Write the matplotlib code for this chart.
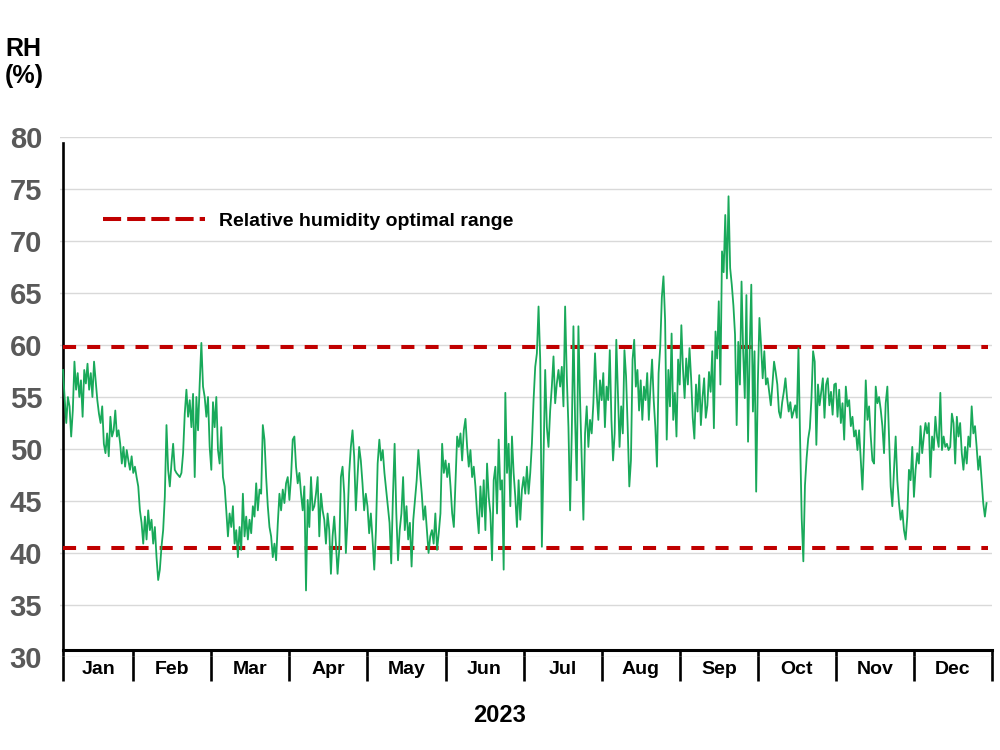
import numpy as np
import matplotlib
matplotlib.use("Agg")
import matplotlib.pyplot as plt
from matplotlib.lines import Line2D

# ---------------- data ----------------
months = ["Jan", "Feb", "Mar", "Apr", "May", "Jun",
          "Jul", "Aug", "Sep", "Oct", "Nov", "Dec"]

jan = [57.6, 54.9, 52.5, 55.0, 54.1, 51.2, 53.7, 58.4, 55.7, 57.3, 55.0, 56.6, 53.1, 57.6,
       56.3, 58.2, 55.7, 57.3, 55.0, 58.4, 56.6, 54.7, 53.4, 52.5, 54.1, 50.5, 49.6, 51.5,
       49.3, 53.1, 51.2, 51.8, 53.7, 51.2, 51.8, 50.5, 48.6, 50.2, 48.3, 49.9, 48.9, 48.0, 49.3]
feb = [47.7, 48.3, 47.3, 46.4, 44.1, 42.9, 40.9, 43.5, 41.3, 44.1, 42.2, 43.2, 40.9, 42.5,
       39.6, 37.4, 38.4, 40.6, 42.2, 45.4, 52.3, 48.0, 46.4, 48.6, 50.5, 48.0, 47.7, 47.5,
       47.3, 47.7, 49.6, 53.4, 55.7, 53.1, 54.7, 52.1, 55.3, 47.3, 55.0, 51.8, 56.3, 60.2,
       56.0, 55.0, 53.1, 55.0, 50.2]
mar = [48.0, 54.5, 52.1, 55.0, 49.9, 48.6, 52.1, 47.3, 46.4, 44.1, 41.6, 43.8, 42.5, 44.5,
       40.9, 42.2, 39.6, 42.5, 40.3, 45.7, 41.6, 43.5, 41.3, 43.2, 41.9, 44.5, 43.5, 46.7,
       44.1, 46.1, 45.7, 52.3, 50.9, 47.3, 44.5, 42.5, 41.6, 39.6, 40.9, 39.3, 42.8, 45.7,
       44.1, 46.1, 44.8, 46.7, 47.3]
apr = [45.1, 47.3, 50.9, 51.2, 48.3, 46.7, 47.7, 45.7, 44.1, 46.4, 36.4, 45.1, 42.5, 47.3,
       44.1, 44.5, 45.7, 47.3, 41.6, 45.7, 44.1, 43.2, 40.9, 43.8, 42.2, 38.0, 41.6, 43.5,
       40.9, 38.0, 40.3, 47.3, 48.3, 45.7, 40.0, 43.2, 47.7, 50.2, 51.8, 49.3, 44.1, 47.3,
       50.2, 48.9, 46.7, 44.1, 45.7]
may = [44.5, 41.9, 43.8, 41.3, 38.4, 42.2, 48.6, 50.9, 48.9, 49.9, 47.7, 46.1, 44.5, 42.9,
       39.0, 45.4, 50.5, 43.8, 39.3, 42.2, 43.8, 47.3, 42.2, 44.5, 41.3, 42.9, 38.7, 43.2,
       45.1, 47.0, 49.9, 47.7, 45.7, 43.2, 44.5, 42.2, 40.0, 41.6, 42.2, 40.9, 43.8, 40.3,
       41.9, 43.8, 50.5, 47.7]
jun = [48.9, 47.3, 48.6, 46.4, 43.8, 42.5, 47.0, 51.2, 50.2, 51.5, 48.9, 51.8, 52.9, 50.2,
       48.3, 49.9, 47.3, 48.3, 46.4, 43.8, 41.9, 46.4, 43.5, 47.0, 42.2, 48.6, 45.4, 43.8,
       39.3, 47.0, 48.3, 43.8, 50.9, 46.1, 47.0, 38.4, 55.4, 47.7, 50.5, 44.5, 51.2, 47.7,
       45.4, 42.5, 47.0, 43.2, 46.1]
jul = [47.3, 45.7, 48.3, 45.7, 47.7, 50.5, 54.7, 57.9, 59.2, 63.7, 58.6, 40.6, 48.9, 57.6,
       52.1, 50.2, 53.7, 56.0, 58.9, 54.4, 56.3, 57.6, 56.0, 57.9, 54.1, 63.7, 57.0, 52.1,
       44.1, 51.5, 61.8, 52.8, 47.0, 61.8, 54.7, 48.9, 43.2, 51.5, 54.1, 50.2, 52.8, 51.5,
       54.4, 59.2, 55.4, 52.8, 56.6]
aug = [54.7, 57.3, 52.1, 56.0, 54.7, 59.5, 52.8, 48.9, 51.5, 60.5, 55.4, 50.2, 54.1, 51.5,
       59.5, 57.0, 52.1, 46.4, 48.9, 58.6, 60.5, 56.0, 57.6, 53.7, 56.6, 52.8, 56.0, 54.7,
       57.3, 52.8, 56.0, 58.6, 54.7, 52.1, 48.3, 57.3, 59.8, 64.6, 66.6, 62.4, 50.9, 57.6,
       54.1, 61.1, 52.8, 55.4, 51.2, 58.6]
sep = [56.2, 61.9, 57.7, 54.9, 58.7, 56.2, 59.7, 56.8, 53.0, 51.0, 56.2, 53.6, 57.1, 52.3,
       54.9, 56.8, 53.0, 54.2, 57.4, 55.5, 59.4, 52.0, 61.3, 58.7, 64.2, 56.2, 69.0, 67.0,
       72.5, 66.4, 74.3, 67.4, 65.8, 63.8, 61.0, 52.3, 60.3, 56.2, 66.1, 59.4, 54.9, 64.8,
       50.7, 59.4, 65.8, 53.6, 59.4, 45.9]
oct_ = [56.2, 62.6, 60.0, 56.8, 59.4, 56.2, 56.8, 55.5, 54.2, 56.2, 58.4, 57.4, 56.2, 53.6,
        53.0, 54.5, 55.5, 56.8, 54.9, 53.6, 54.5, 53.0, 53.6, 54.2, 53.0, 59.7, 51.0, 43.3,
        39.2, 46.5, 49.1, 51.0, 52.0, 54.9, 59.4, 58.4, 50.4, 56.2, 54.2, 55.5, 56.8, 53.0,
        56.2, 56.8, 54.2, 55.5, 53.3, 56.2]
nov = [56.3, 53.1, 55.7, 52.5, 54.4, 50.9, 56.0, 54.1, 54.7, 52.2, 53.1, 51.2, 51.8, 49.9,
       51.8, 48.9, 46.1, 50.5, 56.6, 52.8, 54.1, 51.2, 48.9, 48.6, 56.0, 54.4, 55.0, 53.8,
       52.2, 49.6, 54.4, 56.0, 51.2, 46.4, 44.5, 48.0, 51.2, 47.0, 44.8, 43.2, 44.1, 42.2,
       41.3, 43.5, 48.0, 47.0, 50.2]
dec = [45.4, 48.0, 49.6, 48.6, 52.2, 49.6, 51.2, 52.5, 51.5, 52.5, 47.3, 51.2, 49.9, 53.1,
       51.2, 50.2, 55.4, 49.9, 51.2, 50.2, 50.5, 49.9, 50.2, 53.4, 52.5, 48.6, 53.1, 51.2,
       52.5, 49.6, 48.0, 50.2, 48.6, 51.2, 50.2, 54.1, 51.5, 52.2, 50.2, 48.0, 49.3, 47.0,
       44.8, 43.5, 44.8]

rh_by_month = [jan, feb, mar, apr, may, jun, jul, aug, sep, oct_, nov, dec]

optimal_low = 40.5
optimal_high = 59.8
y_ticks = [30, 35, 40, 45, 50, 55, 60, 65, 70, 75, 80]
year_label = "2023"
legend_label = "Relative humidity optimal range"
y_title = "RH\n(%)"

# month-unit axis: each month has equal width; data covers Jan (partial) .. Dec (partial)
axis_start = 0.1      # where the y axis crosses (early January)
data_end = 11.93      # last reading (late December)

# ---------------- build series ----------------
xs, ys = [], []
for i, vals in enumerate(rh_by_month):
    start = axis_start if i == 0 else float(i)
    end = data_end if i == len(rh_by_month) - 1 else float(i + 1)
    last = i == len(rh_by_month) - 1
    xs.append(np.linspace(start, end, len(vals), endpoint=last))
    ys.append(np.asarray(vals, dtype=float))
x = np.concatenate(xs)
y = np.concatenate(ys)

# ---------------- figure ----------------
plt.rcParams["font.family"] = ["Liberation Sans", "DejaVu Sans"]
fig = plt.figure(figsize=(10, 7.5), dpi=100)
ax = fig.add_axes([0.06, 1 - 657 / 750, 0.932, (657 - 137) / 750])

GREEN = "#19A95A"
RED = "#C00000"

ax.plot(x, y, color=GREEN, lw=1.3, zorder=4)
ax.hlines([optimal_low, optimal_high], axis_start, 11.95, colors=RED, lw=2.9,
          linestyles=[(0, (3.25, 2.75))], zorder=3)

ax.set_ylim(y_ticks[0], y_ticks[-1])
ax.set_xlim(axis_start - 3 / 78.0, len(months))
ax.set_yticks(y_ticks)
ax.grid(axis="y", color="#D9D9D9", lw=1.0)
ax.set_axisbelow(True)

axis_y = 30.67
for s in ("top", "right"):
    ax.spines[s].set_visible(False)
ax.spines["left"].set_position(("data", axis_start))
ax.spines["left"].set_bounds(axis_y, 79.4)
ax.spines["left"].set_linewidth(1.9)
ax.spines["bottom"].set_position(("data", axis_y))
ax.spines["bottom"].set_bounds(axis_start, len(months))
ax.spines["bottom"].set_linewidth(2.2)

edges = [axis_start] + list(range(1, len(months) + 1))
centers = [(edges[i] + edges[i + 1]) / 2 for i in range(len(months))]
ax.set_xticks(edges)
ax.set_xticklabels([""] * len(edges))
ax.set_xticks(centers, minor=True)
ax.set_xticklabels(months, minor=True, fontsize=14, fontweight="bold")
ax.tick_params(axis="x", which="major", direction="out", length=22, width=1.9, color="black")
ax.tick_params(axis="x", which="minor", length=0, pad=8)

ax.set_yticklabels([str(t) for t in y_ticks], fontsize=21, fontweight="bold", color="#595959")
ax.tick_params(axis="y", length=0, pad=15)

fig.text(0.5, 1 - 716 / 750, year_label, ha="center", va="center",
         fontsize=17, fontweight="bold")
fig.text(0.005, 1 - 37 / 750, y_title, ha="left", va="top",
         fontsize=18, fontweight="bold", linespacing=1.15)

handle = Line2D([], [], color=RED, lw=2.9, linestyle=(0, (4.5, 1.5)))
ax.legend([handle], [legend_label], loc="center left",
          bbox_to_anchor=(0.103, 1 - 221 / 750), bbox_transform=fig.transFigure,
          frameon=False, borderaxespad=0, borderpad=0, handlelength=5.24,
          handletextpad=0.72, prop={"size": 14, "weight": "bold"})

fig.savefig("out.png", dpi=100)
